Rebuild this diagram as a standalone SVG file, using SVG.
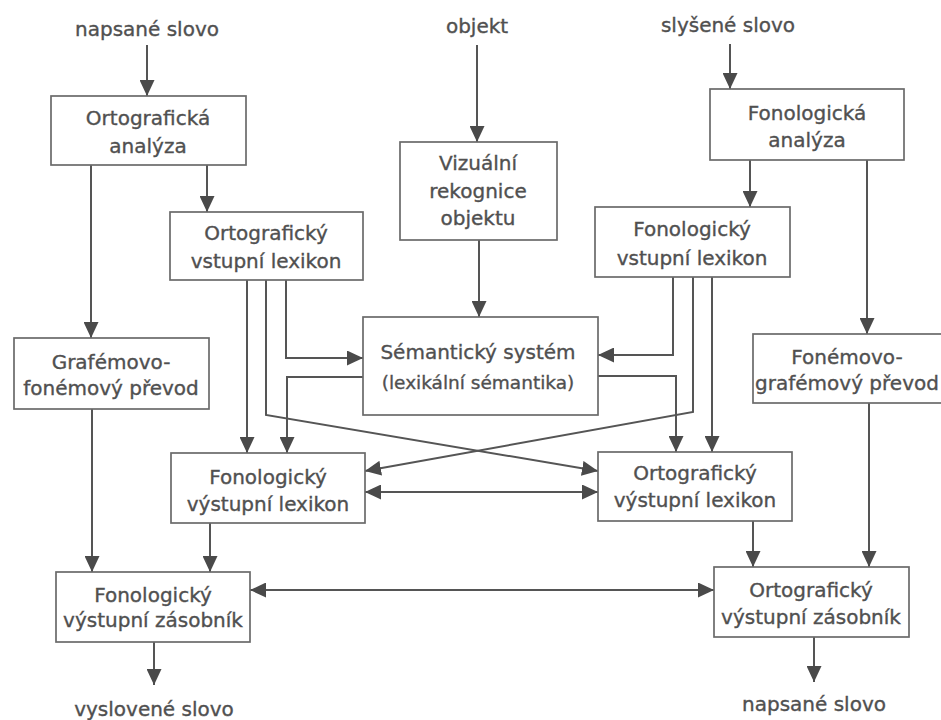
<svg xmlns="http://www.w3.org/2000/svg" width="941" height="720" viewBox="0 0 941 720">
<defs>
<marker id="ah" markerUnits="userSpaceOnUse" markerWidth="16" markerHeight="15" refX="16" refY="7.5" orient="auto-start-reverse">
<path d="M0,0 L16,7.5 L0,15 z" fill="#4a4a4a"/>
</marker>
</defs>
<style>
.box{fill:#fff;stroke:#6a6a6a;stroke-width:1.7}
.t{font-family:"DejaVu Sans",sans-serif;font-size:20px;fill:#505050;stroke:#505050;stroke-width:0.35;text-anchor:middle}
.c{fill:none;stroke:#555;stroke-width:2;marker-end:url(#ah)}
.d{marker-start:url(#ah)}
</style>
<rect width="941" height="720" fill="#fff"/>
<g id="connectors">
<path class="c" d="M147,45 V96"/>
<path class="c" d="M477,45 V142"/>
<path class="c" d="M730,44 V89"/>
<path class="c" d="M207,165 V212"/>
<path class="c" d="M91,165 V338"/>
<path class="c" d="M750,160 V207"/>
<path class="c" d="M867,160 V334"/>
<path class="c" d="M479,240 V317"/>
<path class="c" d="M247,280 V453"/>
<path class="c" d="M286,280 V358 H363"/>
<path class="c" d="M266,280 V415 L598,471"/>
<path class="c" d="M363,377 H287 V453"/>
<path class="c" d="M673,277 V355 H598"/>
<path class="c" d="M693,277 V412 L365,471"/>
<path class="c" d="M712,277 V452"/>
<path class="c" d="M598,376 H676 V452"/>
<path class="c d" d="M365,492 H598"/>
<path class="c" d="M92,409 V572"/>
<path class="c" d="M210,523 V572"/>
<path class="c" d="M753,521 V567"/>
<path class="c" d="M869,403 V567"/>
<path class="c d" d="M250,590 H714"/>
<path class="c" d="M154,642 V685"/>
<path class="c" d="M814,637 V682"/>
</g>
<g id="lbl-napsane-in"><text class="t" x="147" y="36">napsané slovo</text></g>
<g id="lbl-objekt"><text class="t" x="477" y="33">objekt</text></g>
<g id="lbl-slysene"><text class="t" x="728" y="32">slyšené slovo</text></g>
<g id="ort-analyza">
<rect class="box" x="51" y="96" width="195" height="69"/>
<text class="t" x="148" y="125">Ortografická</text>
<text class="t" x="148" y="153">analýza</text>
</g>
<g id="viz-rekognice">
<rect class="box" x="400" y="142" width="157" height="98"/>
<text class="t" x="478" y="170">Vizuální</text>
<text class="t" x="478" y="198">rekognice</text>
<text class="t" x="478" y="225">objektu</text>
</g>
<g id="fon-analyza">
<rect class="box" x="710" y="89" width="194" height="71"/>
<text class="t" x="807" y="120">Fonologická</text>
<text class="t" x="807" y="147">analýza</text>
</g>
<g id="ort-vstup">
<rect class="box" x="170" y="212" width="193" height="68"/>
<text class="t" x="266" y="240">Ortografický</text>
<text class="t" x="266" y="268">vstupní lexikon</text>
</g>
<g id="fon-vstup">
<rect class="box" x="595" y="207" width="195" height="70"/>
<text class="t" x="692" y="236">Fonologický</text>
<text class="t" x="692" y="265">vstupní lexikon</text>
</g>
<g id="grafemovo">
<rect class="box" x="14" y="338" width="195" height="71"/>
<text class="t" x="111" y="369">Grafémovo-</text>
<text class="t" x="111" y="395">fonémový převod</text>
</g>
<g id="semanticky">
<rect class="box" x="363" y="317" width="235" height="98"/>
<text class="t" x="478" y="359">Sémantický systém</text>
<text class="t" x="478" y="389" style="font-size:18.5px">(lexikální sémantika)</text>
</g>
<g id="fonemovo">
<rect class="box" x="753" y="334" width="196" height="69"/>
<text class="t" x="847" y="364">Fonémovo-</text>
<text class="t" x="847" y="390">grafémový převod</text>
</g>
<g id="fon-vystup">
<rect class="box" x="171" y="453" width="194" height="70"/>
<text class="t" x="268" y="484">Fonologický</text>
<text class="t" x="268" y="511">výstupní lexikon</text>
</g>
<g id="ort-vystup">
<rect class="box" x="598" y="452" width="194" height="69"/>
<text class="t" x="695" y="480">Ortografický</text>
<text class="t" x="695" y="507">výstupní lexikon</text>
</g>
<g id="fon-zasobnik">
<rect class="box" x="56" y="572" width="194" height="70"/>
<text class="t" x="153" y="602">Fonologický</text>
<text class="t" x="153" y="627">výstupní zásobník</text>
</g>
<g id="ort-zasobnik">
<rect class="box" x="714" y="567" width="195" height="70"/>
<text class="t" x="811" y="597">Ortografický</text>
<text class="t" x="811" y="624">výstupní zásobník</text>
</g>
<g id="lbl-vyslovene"><text class="t" x="154" y="716">vyslovené slovo</text></g>
<g id="lbl-napsane-out"><text class="t" x="814" y="711">napsané slovo</text></g>
</svg>
